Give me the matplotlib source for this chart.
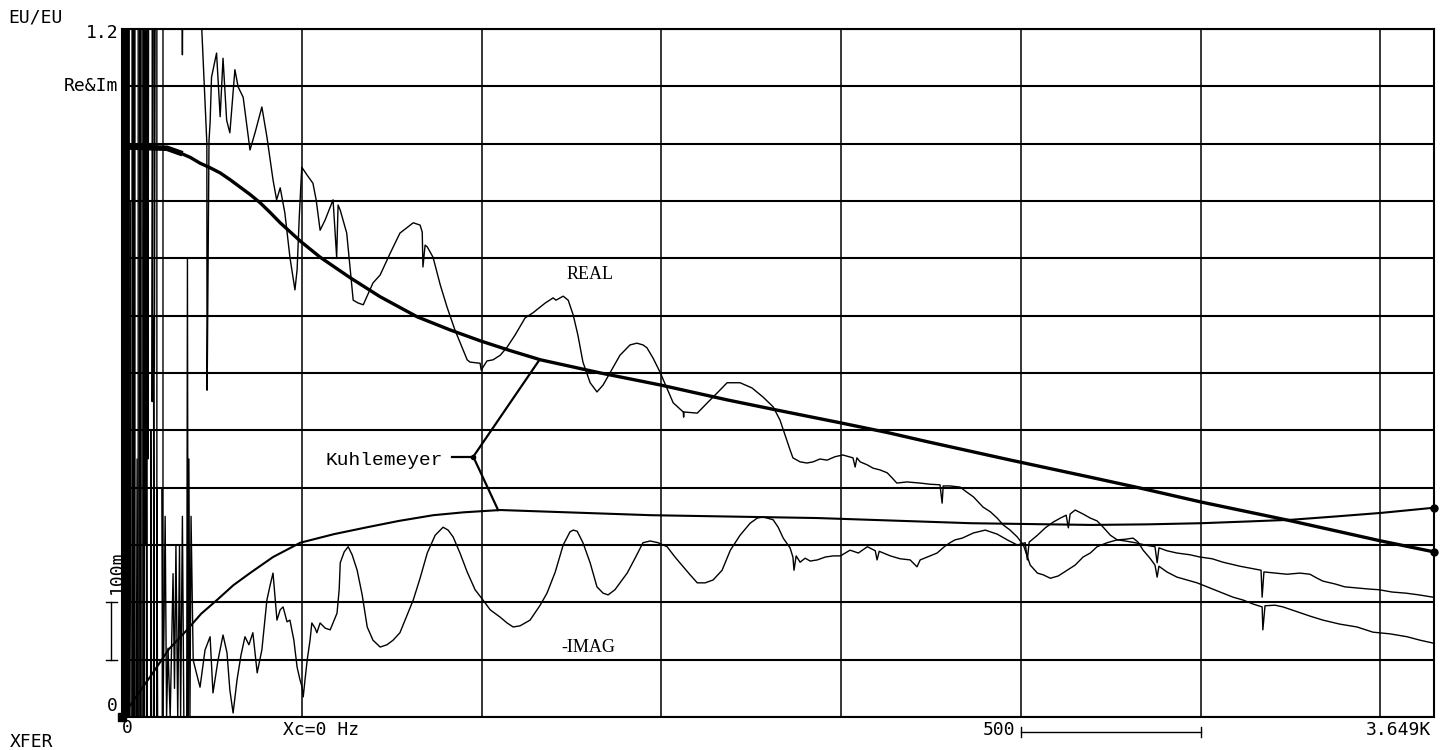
import numpy as np
import matplotlib
matplotlib.use("Agg")
import matplotlib.pyplot as plt

# Kuhlemeyer model (smooth curves)
kuhl_real_hz = [0, 22, 125, 161, 190, 217, 245, 273, 301, 329, 357, 384, 412, 440, 468, 496,
                551, 635, 718, 821, 913, 997, 1080, 1164, 1331, 1498, 1684, 1824, 1999, 2130,
                2241, 2472, 2695, 2834, 3001, 3252, 3502, 3649]
kuhl_real = [0.996, 0.994, 0.992, 0.984, 0.976, 0.966, 0.958, 0.949, 0.937, 0.924, 0.911, 0.897,
             0.880, 0.862, 0.846, 0.830, 0.802, 0.766, 0.733, 0.698, 0.675, 0.656, 0.639, 0.623,
             0.600, 0.579, 0.553, 0.535, 0.513, 0.496, 0.480, 0.448, 0.418, 0.399, 0.375, 0.342,
             0.307, 0.288]

kuhl_imag_hz = [0, 8, 50, 86, 130, 181, 220, 264, 310, 356, 420, 496, 590, 682, 770, 866, 950,
                1052, 1470, 1935, 2361, 2695, 2850, 3001, 3130, 3252, 3380, 3502, 3649]
kuhl_imag = [0.0, 0.007, 0.045, 0.077, 0.118, 0.152, 0.180, 0.204, 0.230, 0.251, 0.279, 0.304,
             0.319, 0.331, 0.342, 0.352, 0.357, 0.361, 0.352, 0.347, 0.338, 0.335, 0.336, 0.338,
             0.341, 0.344, 0.350, 0.356, 0.365]

# measured data, low frequency noise part
lf_real_hz = [20, 20, 28, 28, 31, 31, 36, 36, 45, 45, 50, 50, 53, 53, 58, 58, 61, 61, 64, 64,
              67, 67, 72, 72, 74, 84, 84, 86, 90, 90, 92, 97, 97, 114, 114, 167, 168, 169, 200]
lf_real = [0.0, 1.25, 1.25, 0.0, 0.0, 1.25, 1.25, 0.0, 0.0, 1.25, 1.25, 0.0, 0.0, 1.25, 1.25, 0.0,
           0.0, 1.25, 1.25, 0.3, 0.3, 1.25, 1.25, 0.45, 1.25, 1.25, 0.55, 1.25, 1.25, 0.6, 1.25,
           1.25, 0.0, 0.0, 1.25, 1.25, 1.155, 1.25, 1.25]

lf_imag_hz = [20, 23, 25, 33, 33, 35, 40, 42, 44, 50, 50, 52, 60, 60, 62, 68, 68, 70, 80, 80, 82,
              88, 88, 90, 97, 97, 99, 112, 112, 114, 120, 124, 128, 134, 142, 146, 150, 155, 160,
              163, 168, 172, 180, 182, 184, 186, 189, 192]
lf_imag = [0.0, 0.9, 0.0, 0.0, 1.25, 0.0, 0.0, 0.45, 0.0, 0.0, 1.25, 0.0, 0.0, 0.85, 0.0, 0.0,
           1.25, 0.0, 0.0, 0.5, 0.0, 0.0, 0.7, 0.0, 0.0, 0.4, 0.0, 0.0, 0.4, 0.0, 0.35, 0.0, 0.12,
           0.0, 0.25, 0.05, 0.3, 0.0, 0.3, 0.0, 0.35, 0.0, 0.0, 0.8, 0.0, 0.45, 0.0, 0.35]

# measured REAL
real_hz = [222, 236, 236.5, 237, 242, 245, 249, 263, 273, 281, 291, 300, 314, 323, 337, 356, 370,
           389, 403, 420, 430, 440, 453, 467, 481, 487, 493, 500, 515, 531, 540, 551, 565, 587,
           597, 601, 607, 625, 643, 657, 671, 698, 718, 746, 773, 810, 829, 835, 837, 843, 849,
           865, 885, 904, 926, 960, 968, 996, 999, 1015, 1032, 1052, 1071, 1093, 1121, 1143,
           1177, 1199, 1207, 1227, 1241, 1255, 1268, 1282, 1302, 1321, 1338, 1366, 1385, 1413,
           1432, 1449, 1460, 1477, 1496, 1533, 1561, 1562, 1563, 1600, 1628, 1655, 1683, 1719,
           1752, 1783, 1811, 1830, 1858, 1866, 1886, 1905, 1922, 1941, 1961, 1983, 2005, 2033,
           2039, 2044, 2053, 2072, 2089, 2108, 2128, 2142, 2155, 2183, 2220, 2247, 2275, 2281,
           2284, 2303, 2331, 2350, 2368, 2395, 2415, 2434, 2451, 2470, 2490, 2507, 2526, 2546,
           2562, 2582, 2604, 2629, 2651, 2673, 2693, 2712, 2740, 2768, 2790, 2812, 2826, 2840,
           2859, 2873, 2879, 2884, 2906, 2934, 2962, 2990, 3026, 3062, 3090, 3118, 3146, 3171,
           3173, 3179, 3207, 3229, 3262, 3304, 3340, 3387, 3435, 3479, 3527, 3574, 3610, 3646]
real = [1.198, 1.001, 0.570, 0.583, 1.006, 1.036, 1.116, 1.158, 1.047, 1.149, 1.041, 1.019, 1.129,
        1.099, 1.081, 0.989, 1.019, 1.064, 1.012, 0.937, 0.902, 0.923, 0.879, 0.802, 0.745, 0.780,
        0.872, 0.959, 0.945, 0.931, 0.902, 0.849, 0.867, 0.902, 0.802, 0.893, 0.884, 0.844, 0.727,
        0.722, 0.719, 0.757, 0.771, 0.809, 0.844, 0.862, 0.858, 0.846, 0.785, 0.823, 0.820, 0.802,
        0.754, 0.715, 0.675, 0.623, 0.619, 0.617, 0.605, 0.621, 0.623, 0.631, 0.645, 0.666, 0.696,
        0.705, 0.722, 0.731, 0.727, 0.734, 0.727, 0.701, 0.666, 0.619, 0.583, 0.567, 0.579, 0.610,
        0.631, 0.649, 0.652, 0.649, 0.644, 0.626, 0.602, 0.548, 0.532, 0.523, 0.532, 0.530, 0.548,
        0.565, 0.583, 0.583, 0.574, 0.558, 0.541, 0.518, 0.466, 0.452, 0.445, 0.443, 0.445, 0.450,
        0.448, 0.454, 0.457, 0.452, 0.436, 0.452, 0.445, 0.440, 0.434, 0.431, 0.426, 0.417, 0.408,
        0.410, 0.408, 0.406, 0.405, 0.373, 0.403, 0.403, 0.401, 0.392, 0.384, 0.366, 0.358, 0.347,
        0.335, 0.326, 0.314, 0.300, 0.265, 0.251, 0.248, 0.242, 0.246, 0.256, 0.265, 0.279, 0.286,
        0.297, 0.304, 0.309, 0.310, 0.312, 0.305, 0.291, 0.277, 0.265, 0.244, 0.263, 0.253, 0.244,
        0.239, 0.234, 0.225, 0.216, 0.209, 0.204, 0.197, 0.192, 0.152, 0.194, 0.195, 0.192, 0.185,
        0.176, 0.169, 0.162, 0.157, 0.148, 0.145, 0.140, 0.134, 0.129]

# measured -IMAG
imag_hz = [198, 217, 231, 245, 253, 267, 281, 292, 300, 309, 320, 331, 342, 353, 364, 376, 389,
           403, 412, 420, 431, 440, 448, 459, 467, 478, 487, 495, 501, 504, 509, 515, 523, 528,
           537, 542, 551, 565, 579, 590, 598, 604, 607, 618, 629, 640, 654, 668, 682, 698, 718,
           737, 754, 773, 793, 810, 829, 849, 871, 893, 907, 921, 940, 960, 982, 1004, 1024,
           1052, 1071, 1088, 1107, 1135, 1163, 1182, 1205, 1227, 1246, 1255, 1266, 1282, 1302,
           1321, 1338, 1352, 1371, 1405, 1427, 1449, 1469, 1491, 1516, 1538, 1561, 1580, 1600,
           1622, 1644, 1669, 1692, 1719, 1747, 1767, 1783, 1811, 1825, 1839, 1858, 1866, 1869,
           1875, 1886, 1900, 1914, 1934, 1956, 1978, 1998, 2025, 2048, 2073, 2095, 2100, 2106,
           2137, 2164, 2192, 2211, 2220, 2247, 2267, 2289, 2303, 2317, 2337, 2368, 2401, 2434,
           2462, 2490, 2512, 2518, 2523, 2546, 2568, 2590, 2610, 2626, 2632, 2637, 2651, 2673,
           2693, 2712, 2729, 2749, 2768, 2790, 2818, 2845, 2873, 2879, 2884, 2906, 2934, 2970,
           2998, 3032, 3062, 3109, 3151, 3168, 3171, 3176, 3207, 3240, 3276, 3304, 3324, 3340,
           3374, 3401, 3435, 3471, 3496, 3532, 3571, 3607, 3646]
imag = [0.099, 0.052, 0.117, 0.140, 0.042, 0.099, 0.143, 0.112, 0.047, 0.007, 0.065, 0.108, 0.140,
        0.126, 0.147, 0.077, 0.117, 0.204, 0.230, 0.251, 0.169, 0.187, 0.192, 0.166, 0.169, 0.134,
        0.087, 0.065, 0.052, 0.035, 0.065, 0.099, 0.134, 0.164, 0.155, 0.147, 0.164, 0.155, 0.152,
        0.169, 0.181, 0.222, 0.269, 0.288, 0.297, 0.283, 0.256, 0.213, 0.157, 0.134, 0.122, 0.126,
        0.134, 0.147, 0.178, 0.204, 0.242, 0.286, 0.317, 0.331, 0.326, 0.314, 0.286, 0.253, 0.222,
        0.204, 0.187, 0.174, 0.164, 0.157, 0.159, 0.169, 0.195, 0.216, 0.253, 0.300, 0.323, 0.326,
        0.324, 0.304, 0.269, 0.227, 0.216, 0.213, 0.222, 0.251, 0.277, 0.304, 0.307, 0.304, 0.297,
        0.279, 0.262, 0.248, 0.234, 0.234, 0.239, 0.256, 0.291, 0.317, 0.338, 0.347, 0.349, 0.344,
        0.331, 0.312, 0.295, 0.279, 0.256, 0.281, 0.270, 0.277, 0.272, 0.274, 0.279, 0.281, 0.281,
        0.291, 0.286, 0.297, 0.290, 0.274, 0.289, 0.281, 0.276, 0.274, 0.262, 0.274, 0.281, 0.286,
        0.298, 0.304, 0.309, 0.312, 0.321, 0.326, 0.319, 0.309, 0.300, 0.304, 0.274, 0.305, 0.317,
        0.330, 0.340, 0.347, 0.352, 0.330, 0.354, 0.361, 0.354, 0.347, 0.342, 0.331, 0.317, 0.309,
        0.307, 0.304, 0.300, 0.297, 0.269, 0.295, 0.290, 0.286, 0.283, 0.279, 0.276, 0.270, 0.263,
        0.258, 0.256, 0.209, 0.253, 0.251, 0.249, 0.251, 0.249, 0.242, 0.237, 0.232, 0.227, 0.225,
        0.223, 0.222, 0.218, 0.216, 0.213, 0.209]

f_max = 3649

fig = plt.figure(figsize=(14.46, 7.5), dpi=100)
ax = fig.add_axes([122 / 1446, 33 / 750, 1312 / 1446, 688 / 750])

ax.set_xlim(0, f_max)
ax.set_ylim(0, 1.2)
ax.set_xticks(np.arange(0, f_max, 500))
ax.set_yticks(np.arange(0, 1.21, 0.1))
ax.tick_params(length=0, labelbottom=False, labelleft=False)
ax.xaxis.grid(True, color='black', lw=1.1)
ax.yaxis.grid(True, color='black', lw=1.5)
ax.set_axisbelow(True)
for s in ax.spines.values():
    s.set_linewidth(1.5)

# measured curves
ax.plot(np.concatenate([lf_real_hz, real_hz]), np.concatenate([lf_real, real]),
        color='black', lw=1.0)
ax.plot(np.concatenate([lf_imag_hz, imag_hz]), np.concatenate([lf_imag, imag]),
        color='black', lw=1.0)
# dense band at 0 Hz
ax.axvspan(0, 20, color='black', lw=0)

# Kuhlemeyer model
ax.plot(kuhl_real_hz, kuhl_real, color='black', lw=2.4)
ax.plot(kuhl_real_hz[:4], kuhl_real[:4], color='black', lw=4)
ax.plot(kuhl_imag_hz, kuhl_imag, color='black', lw=1.5)
ax.plot(kuhl_real_hz[-1], kuhl_real[-1], 'o', color='black', ms=5, clip_on=False)
ax.plot(kuhl_imag_hz[-1], kuhl_imag[-1], 'o', color='black', ms=5, clip_on=False)
ax.plot(0, 0, 's', color='black', ms=6, clip_on=False)

# labels inside the plot
ax.text(1302, 0.771, 'REAL', family='Liberation Serif', fontsize=13,
        ha='center', va='center')
ax.text(1297, 0.122, '-IMAG', family='Liberation Serif', fontsize=13,
        ha='center', va='center')
ax.text(893, 0.448, 'Kuhlemeyer', family='Liberation Mono', fontsize=14,
        ha='right', va='center')
ax.plot([918, 977], [0.454, 0.454], color='black', lw=1.6)
ax.plot([977, 1160], [0.454, 0.622], color='black', lw=1.6)
ax.plot([977, 1046], [0.454, 0.361], color='black', lw=1.6)
ax.plot(977, 0.454, 'o', color='black', ms=3)

# scale brackets
ax.plot([2500, 3000], [-0.026, -0.026], color='black', lw=1, clip_on=False)
ax.plot([2500, 2500], [-0.035, -0.017], color='black', lw=1, clip_on=False)
ax.plot([3000, 3000], [-0.035, -0.017], color='black', lw=1, clip_on=False)
ax.plot([-30, -30], [0.1, 0.2], color='black', lw=1, clip_on=False)
ax.plot([-45, -15], [0.1, 0.1], color='black', lw=1, clip_on=False)
ax.plot([-45, -15], [0.2, 0.2], color='black', lw=1, clip_on=False)

# analyzer annotations around the frame
hp = dict(family='DejaVu Sans Mono', fontsize=13)
fig.text(8 / 1446, 1 - 17 / 750, 'EU/EU', ha='left', va='center', **hp)
fig.text(118 / 1446, 1 - 33 / 750, '1.2', ha='right', va='center', **hp)
fig.text(118 / 1446, 1 - 86 / 750, 'Re&Im', ha='right', va='center', **hp)
fig.text(117 / 1446, 1 - 572 / 750, '100m', ha='center', va='center', rotation=90, **hp)
fig.text(112 / 1446, 1 - 706 / 750, '0', ha='center', va='center', **hp)
fig.text(127 / 1446, 1 - 728 / 750, '0', ha='center', va='center', **hp)
fig.text(283 / 1446, 1 - 730 / 750, 'Xc=0 Hz', ha='left', va='center', **hp)
fig.text(1015 / 1446, 1 - 730 / 750, '500', ha='right', va='center', **hp)
fig.text(1431 / 1446, 1 - 730 / 750, '3.649K', ha='right', va='center', **hp)
fig.text(10 / 1446, 1 - 742 / 750, 'XFER', ha='left', va='center', **hp)

fig.savefig('out.png', dpi=100)
